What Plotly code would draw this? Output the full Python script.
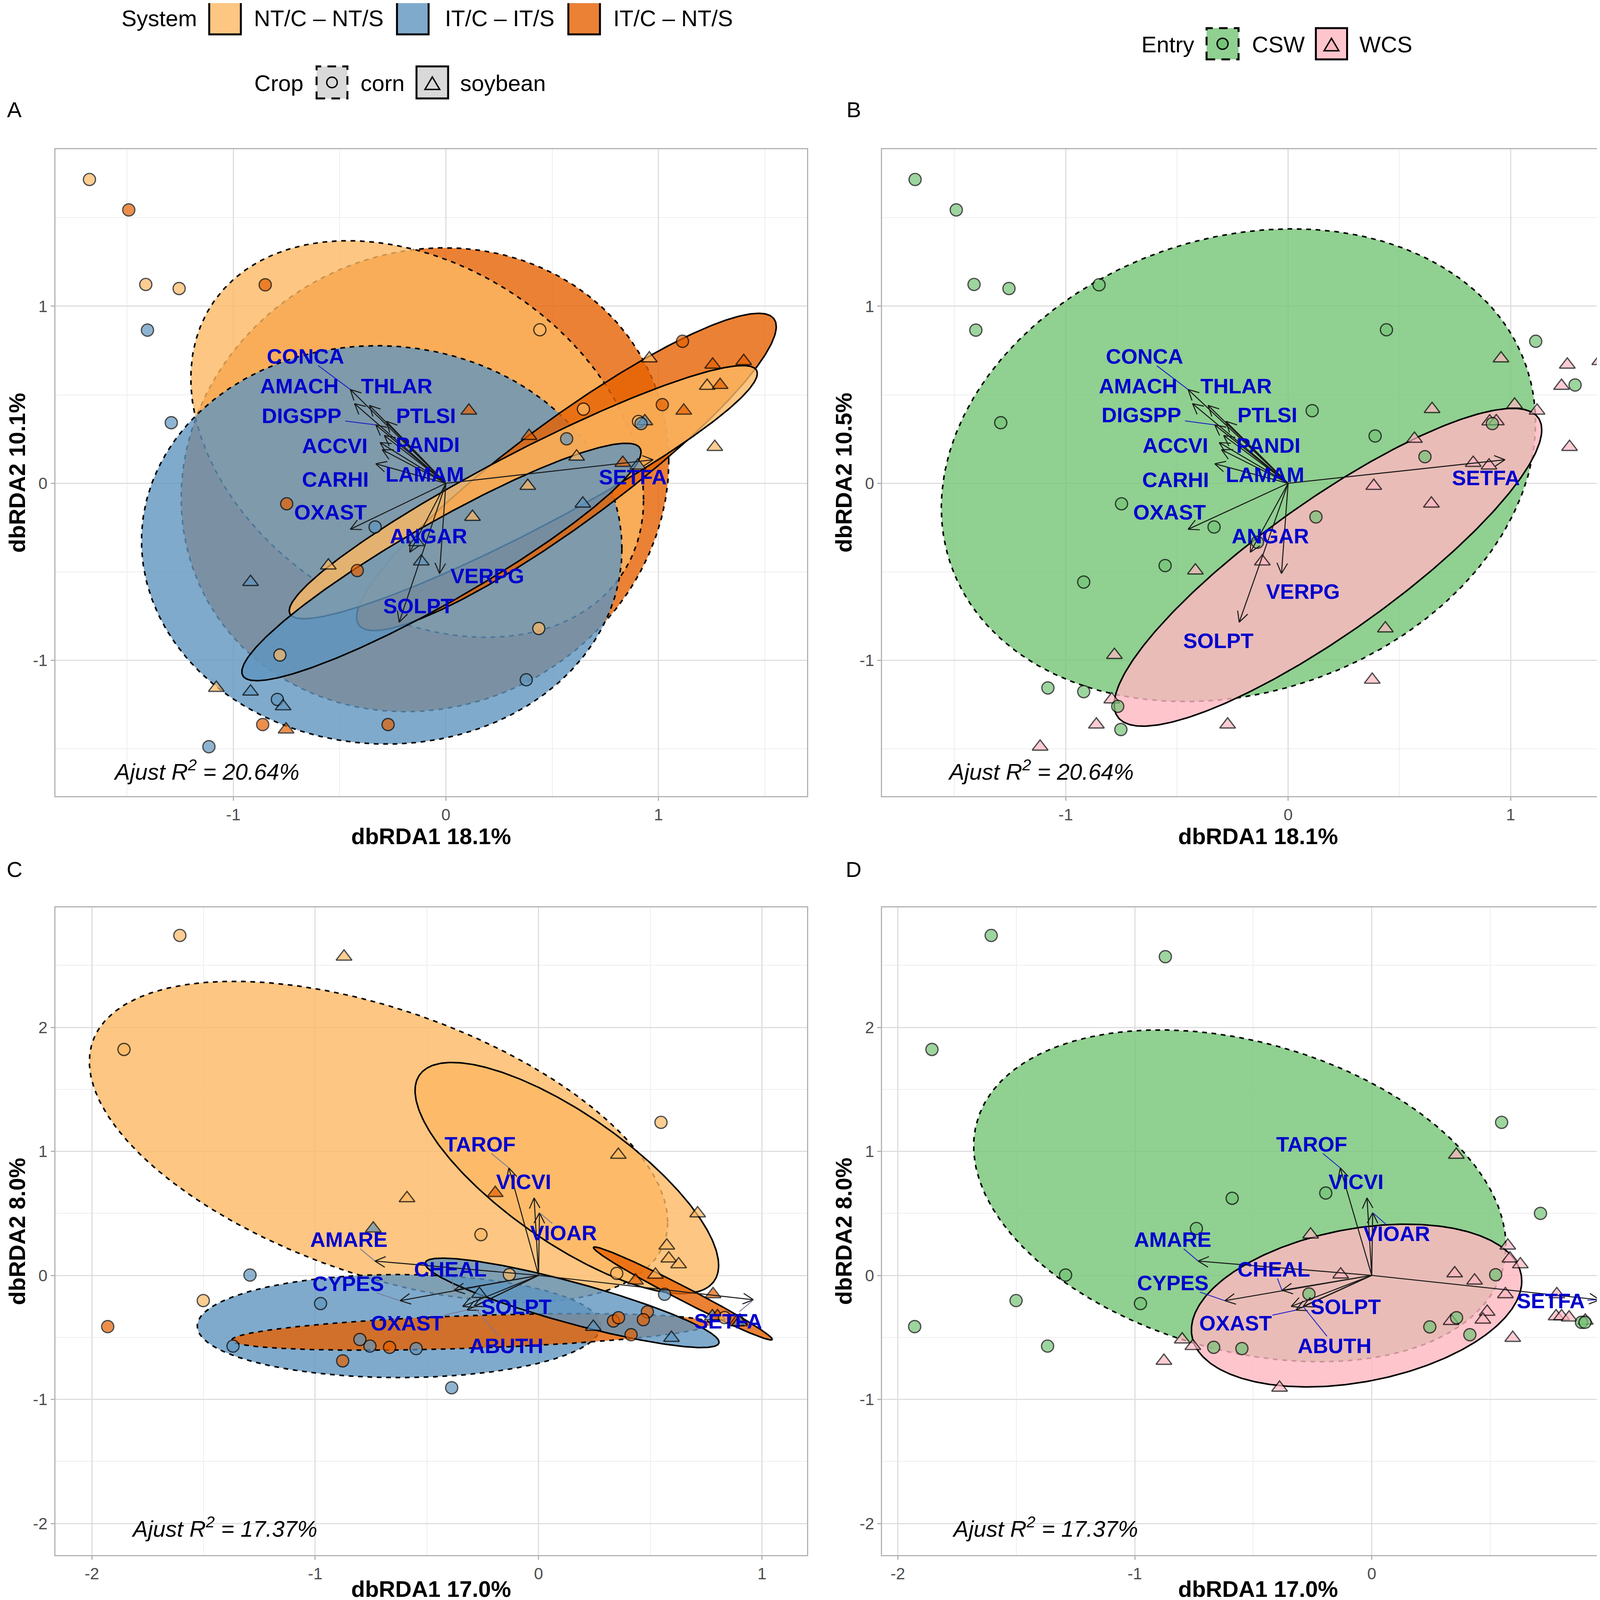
import numpy as np
import plotly.graph_objects as go

FIG_W, FIG_H = 4193, 4113
OFF = 8  # page margin the browser puts round the figure
FW, FH = FIG_W - 2 * OFF, FIG_H - 2 * OFF
FONT = "Liberation Sans, Arial, sans-serif"

# ---------------- scores, row 1 (panels A and B) ----------------
r1_x = [-1.677, -1.492, -1.412, -1.255, -0.850, -1.404, -1.292, -0.749, -0.333, -0.553, -0.417, -0.919,
        -0.116, -0.781, -1.080, -0.919, -0.793, -0.766, -0.862, -0.752, -0.272, -1.115, -0.138,
        0.442, 1.113, 0.957, 1.255, 1.401, 1.229, 1.290, 0.647, 1.018, 1.119, 0.906, 0.936, 0.918,
        0.108, 0.391, 0.568, 0.615, 1.265, 0.832, 0.903, 0.385, 0.644, 0.125, 0.437, 0.378]
r1_y = [1.716, 1.544, 1.123, 1.100, 1.121, 0.865, 0.342, -0.116, -0.247, -0.465, -0.493, -0.558,
        -0.442, -0.970, -1.156, -1.177, -1.221, -1.260, -1.363, -1.391, -1.363, -1.488, -0.333,
        0.867, 0.802, 0.705, 0.670, 0.690, 0.550, 0.555, 0.419, 0.444, 0.410, 0.349, 0.350, 0.337,
        0.410, 0.267, 0.251, 0.150, 0.205, 0.115, 0.100, -0.015, -0.115, -0.190, -0.820, -1.110]
r1_sys = ["NT", "ITNT", "NT", "NT", "ITNT", "IT", "IT", "ITNT", "IT", "NT", "ITNT", "IT",
          "IT", "NT", "NT", "IT", "IT", "IT", "ITNT", "ITNT", "ITNT", "IT", "IT",
          "NT", "ITNT", "NT", "ITNT", "ITNT", "NT", "ITNT", "NT", "ITNT", "ITNT", "NT", "IT", "IT",
          "ITNT", "ITNT", "IT", "NT", "NT", "ITNT", "IT", "NT", "IT", "NT", "NT", "IT"]
r1_crop = ["corn"] * 9 + ["soybean", "corn", "soybean", "soybean", "corn", "soybean", "soybean", "corn",
           "soybean", "corn", "soybean", "corn", "corn", "soybean",
           "corn", "corn", "soybean", "soybean", "soybean", "soybean", "soybean", "corn", "corn", "soybean",
           "corn", "soybean", "corn", "soybean", "soybean", "corn", "soybean", "soybean", "soybean",
           "soybean", "soybean", "soybean", "soybean", "corn", "corn"]
r1_entry = ["CSW"] * 10 + ["WCS", "CSW", "WCS", "WCS", "CSW", "CSW", "WCS", "CSW", "WCS", "CSW", "WCS", "WCS", "CSW",
            "CSW", "CSW", "WCS", "WCS", "WCS", "WCS", "CSW", "WCS", "WCS", "WCS", "WCS", "WCS", "CSW",
            "CSW", "CSW", "WCS", "CSW", "WCS", "WCS", "WCS", "WCS", "WCS", "CSW", "WCS", "WCS"]

# ---------------- scores, row 2 (panels C and D) ----------------
r2_x = [-1.606, -0.871, -1.856, 0.548, 0.357, -0.589, -0.194, -0.740, -0.258, 0.712, 0.574, 0.583,
        0.627, -0.131, 0.350, 0.434, 0.523, -1.292, 0.564, 0.781, -0.265, -1.501, -0.976, -1.929,
        0.335, 0.358, 0.487, 0.469, 0.245, 0.414, 0.595, -1.368, -0.800, -0.755, -0.667, -0.548,
        -0.877, -0.389, 0.778, 0.801, 0.833, 0.901, 0.885, 0.900]
r2_y = [2.741, 2.570, 1.822, 1.234, 0.972, 0.622, 0.664, 0.378, 0.329, 0.500, 0.240, 0.136,
        0.089, 0.007, 0.016, -0.042, 0.005, 0.003, -0.152, -0.152, -0.150, -0.203, -0.227, -0.413,
        -0.368, -0.341, -0.294, -0.357, -0.415, -0.478, -0.504, -0.570, -0.517, -0.570, -0.580, -0.590,
        -0.689, -0.906, -0.330, -0.330, -0.340, -0.365, -0.378, -0.378]
r2_sys = ["NT", "NT", "NT", "NT", "NT", "NT", "ITNT", "IT", "NT", "NT", "NT", "NT",
          "NT", "NT", "NT", "ITNT", "NT", "IT", "IT", "ITNT", "IT", "NT", "IT", "ITNT",
          "ITNT", "ITNT", "ITNT", "ITNT", "IT", "ITNT", "IT", "IT", "IT", "IT", "ITNT", "IT",
          "ITNT", "IT", "IT", "ITNT", "NT", "ITNT", "ITNT", "IT"]
r2_crop = ["corn", "soybean", "corn", "corn", "soybean", "soybean", "soybean", "soybean", "corn", "soybean",
           "soybean", "soybean", "soybean", "corn", "corn", "soybean", "soybean", "corn", "corn", "soybean",
           "soybean", "corn", "corn", "corn", "corn", "corn", "corn", "corn", "soybean", "corn", "soybean",
           "corn", "corn", "corn", "corn", "corn", "corn", "corn", "soybean", "soybean", "corn", "soybean",
           "soybean", "soybean"]
r2_entry = ["CSW", "CSW", "CSW", "CSW", "WCS", "CSW", "CSW", "CSW", "WCS", "CSW", "WCS", "WCS",
            "WCS", "WCS", "WCS", "WCS", "CSW", "CSW", "WCS", "WCS", "CSW", "CSW", "CSW", "CSW",
            "WCS", "CSW", "WCS", "WCS", "CSW", "CSW", "WCS", "CSW", "WCS", "WCS", "CSW", "CSW",
            "WCS", "WCS", "WCS", "WCS", "WCS", "WCS", "CSW", "CSW"]

# ---------------- species vectors ----------------
r1_sp = ["CONCA", "AMACH", "THLAR", "DIGSPP", "PTLSI", "PANDI", "ACCVI", "LAMAM", "CARHI",
         "OXAST", "ANGAR", "VERPG", "SOLPT", "SETFA"]
r1_vx = [-0.45, -0.43, -0.36, -0.33, -0.28, -0.29, -0.31, -0.30, -0.33, -0.45, -0.17, -0.03, -0.22, 0.975]
r1_vy = [0.53, 0.45, 0.44, 0.33, 0.35, 0.27, 0.23, 0.19, 0.11, -0.26, -0.39, -0.51, -0.785, 0.133]
r1_lead = ["CONCA", "DIGSPP"]
A_lx = [-0.66, -0.689, -0.231, -0.679, -0.093, -0.086, -0.523, -0.10, -0.521, -0.544, -0.081, 0.195, -0.13, 0.879]
A_ly = [0.718, 0.549, 0.549, 0.382, 0.382, 0.218, 0.212, 0.051, 0.023, -0.162, -0.297, -0.523, -0.692, 0.035]
B_lx = [-0.646, -0.674, -0.234, -0.66, -0.094, -0.089, -0.506, -0.103, -0.506, -0.534, -0.08, 0.066, -0.314, 0.89]
B_ly = [0.717, 0.55, 0.55, 0.386, 0.386, 0.215, 0.215, 0.05, 0.02, -0.162, -0.298, -0.611, -0.889, 0.032]

r2_sp = ["TAROF", "VICVI", "VIOAR", "AMARE", "CHEAL", "CYPES", "SOLPT", "OXAST", "ABUTH", "SETFA"]
r2_vx = [-0.133, -0.02, 0.004, -0.733, -0.379, -0.62, -0.34, -0.32, -0.29, 0.962]
r2_vy = [0.867, 0.625, 0.505, 0.116, -0.12, -0.204, -0.25, -0.28, -0.25, -0.197]
r2_lead = ["TAROF", "VIOAR", "AMARE", "CHEAL", "CYPES", "OXAST", "ABUTH", "SETFA"]
C_lx = [-0.262, -0.067, 0.112, -0.849, -0.394, -0.852, -0.099, -0.589, -0.144, 0.849]
C_ly = [1.059, 0.755, 0.343, 0.29, 0.052, -0.066, -0.252, -0.385, -0.566, -0.367]
D_lx = [-0.254, -0.067, 0.106, -0.84, -0.413, -0.84, -0.11, -0.574, -0.157, 0.755]
D_ly = [1.059, 0.755, 0.336, 0.29, 0.052, -0.059, -0.252, -0.385, -0.566, -0.206]

# ---------------- ellipses (centre, half width, half height, correlation) ----------------
A_ell_grp = ["ITNT", "NT", "IT", "ITNT", "NT", "IT"]
A_ell_crop = ["corn", "corn", "corn", "soybean", "soybean", "soybean"]
A_ell_cx = [-0.0985, -0.135, -0.302, 0.567, 0.364, -0.021]
A_ell_cy = [0.02, 0.25, -0.348, 0.064, -0.05, -0.4445]
A_ell_sx = [1.147, 1.065, 1.13, 0.987, 1.101, 0.939]
A_ell_sy = [1.31, 1.12, 1.125, 0.896, 0.715, 0.6705]
A_ell_r = [0.08, -0.306, -0.02, 0.916, 0.9375, 0.925]

B_ell_grp = ["CSW", "WCS"]
B_ell_cx = [-0.2235, 0.179]
B_ell_cy = [0.102, -0.4745]
B_ell_sx = [1.3355, 0.961]
B_ell_sy = [1.335, 0.8975]
B_ell_r = [0.18, 0.865]

C_ell_grp = ["NT", "IT", "ITNT", "NT", "IT", "ITNT"]
C_ell_crop = ["corn", "corn", "corn", "soybean", "soybean", "soybean"]
C_ell_cx = [-0.7165, -0.625, -0.302, 0.1265, 0.15, 0.646]
C_ell_cy = [1.077, -0.4085, -0.4555, 0.785, -0.2215, -0.1455]
C_ell_sx = [1.2945, 0.903, 1.072, 0.6795, 0.658, 0.4002]
C_ell_sy = [1.294, 0.4155, 0.1475, 0.932, 0.3605, 0.375]
C_ell_r = [-0.5, 0.0, 0.45, -0.756, -0.88, -0.986]

D_ell_grp = ["CSW", "WCS"]
D_ell_cx = [-0.557, -0.064]
D_ell_cy = [0.6415, -0.243]
D_ell_sx = [1.123, 0.697]
D_ell_sy = [1.3375, 0.656]
D_ell_r = [-0.3, 0.3]

sys_names = {"NT": "NT/C – NT/S", "IT": "IT/C – IT/S", "ITNT": "IT/C – NT/S"}
col = {"NT": "#FDB863", "IT": "#5F95BF", "ITNT": "#E66101", "CSW": "#74C476", "WCS": "#FFB6C1"}


def rgba(hexc, a):
    h = hexc.lstrip("#")
    return "rgba(%d,%d,%d,%s)" % (int(h[0:2], 16), int(h[2:4], 16), int(h[4:6], 16), a)


def px_x(v):
    return (v - OFF) / FW


def px_y(v):
    return 1 - (v - OFF) / FH


# pixel boxes of the four panels (left, top, right, bottom) and their ranges
panels = {
    "A": dict(box=(142, 382, 2067, 2038), xr=(-1.837, 1.698), yr=(-1.767, 1.887), n="", seg="#2020C8", tt=102),
    "B": dict(box=(2260, 382, 4185, 2038), xr=(-1.825, 1.553), yr=(-1.767, 1.887), n="2", seg="#2020C8", tt=102),
    "C": dict(box=(142, 2323, 2067, 3981), xr=(-2.163, 1.201), yr=(-2.255, 2.967), n="3", seg="#7A7A9A", tt=86),
    "D": dict(box=(2260, 2323, 4185, 3981), xr=(-2.066, 1.105), yr=(-2.255, 2.967), n="4", seg="#2020C8", tt=86),
}
titles = {"A": ("dbRDA1 18.1%", "dbRDA2 10.1%"), "B": ("dbRDA1 18.1%", "dbRDA2 10.5%"),
          "C": ("dbRDA1 17.0%", "dbRDA2 8.0%"), "D": ("dbRDA1 17.0%", "dbRDA2 8.0%")}

fig = go.Figure()


def scale(p):
    P = panels[p]
    bx = P["box"]
    return (bx[2] - bx[0]) / (P["xr"][1] - P["xr"][0]), (bx[3] - bx[1]) / (P["yr"][1] - P["yr"][0])


def ellipse_xy(cx, cy, sx, sy, r, n=300):
    t = np.linspace(0, 2 * np.pi, n)
    x = cx + sx * np.cos(t)
    y = cy + sy * (r * np.cos(t) + np.sqrt(1 - r * r) * np.sin(t))
    return x, y


def add_ellipses(p, grp, crop, cx, cy, sx, sy, rr):
    n = panels[p]["n"]
    for g, c, a, b, w, h, r in zip(grp, crop, cx, cy, sx, sy, rr):
        x, y = ellipse_xy(a, b, w, h, r)
        fig.add_trace(go.Scatter(x=x, y=y, mode="lines", fill="toself", fillcolor=rgba(col[g], 0.8),
                                 line=dict(color="black", width=4, dash="dash" if c in ("corn", "CSW") else "solid"),
                                 xaxis="x" + n, yaxis="y" + n, hoverinfo="skip", showlegend=False))


def add_points(p, xs, ys, colour_keys, shape_keys):
    n = panels[p]["n"]
    cols = [col[k] for k in colour_keys]
    sym = ["circle" if s in ("corn", "CSW") else "triangle-up" for s in shape_keys]
    size = [31 if s == "circle" else 35 for s in sym]
    fig.add_trace(go.Scatter(x=xs, y=ys, mode="markers",
                             marker=dict(color=cols, symbol=sym, size=size, line=dict(color="black", width=3.2)),
                             xaxis="x" + n, yaxis="y" + n, showlegend=False))


def add_vectors(p, vx, vy, sp, lx, ly, lead, head=30, ang=27):
    P = panels[p]
    n = P["n"]
    sx, sy = scale(p)
    xs, ys = [], []
    for tx, ty in zip(vx, vy):
        xs += [0, tx, None]
        ys += [0, ty, None]
        phi = np.arctan2(ty * sy, tx * sx)
        for s in (1, -1):
            a = phi + np.pi + s * np.radians(ang)
            xs += [tx + head * np.cos(a) / sx, tx, None]
            ys += [ty + head * np.sin(a) / sy, ty, None]
    fig.add_trace(go.Scatter(x=xs, y=ys, mode="lines", line=dict(color="#1a1a1a", width=2.6),
                             xaxis="x" + n, yaxis="y" + n, hoverinfo="skip", showlegend=False))
    # leader segments from the label box to the arrow tip
    segx, segy = [], []
    for name, x, y, tx, ty in zip(sp, lx, ly, vx, vy):
        if name not in lead:
            continue
        dx, dy = (tx - x) * sx, (ty - y) * sy
        hw, hh = len(name) * 18 + 4, 24
        t = min(hw / abs(dx) if dx else 1e9, hh / abs(dy) if dy else 1e9)
        if t >= 0.95:
            continue
        segx += [x + dx * t / sx, tx, None]
        segy += [y + dy * t / sy, ty, None]
    fig.add_trace(go.Scatter(x=segx, y=segy, mode="lines", line=dict(color=P["seg"], width=2.2),
                             xaxis="x" + n, yaxis="y" + n, hoverinfo="skip", showlegend=False))
    for name, x, y in zip(sp, lx, ly):
        fig.add_annotation(x=x, y=y, xref="x" + n, yref="y" + n, text="<b>%s</b>" % name, showarrow=False,
                           xanchor="center", yanchor="middle",
                           font=dict(size=54, color="#0000CD", family=FONT))


add_ellipses("A", A_ell_grp, A_ell_crop, A_ell_cx, A_ell_cy, A_ell_sx, A_ell_sy, A_ell_r)
add_points("A", r1_x, r1_y, r1_sys, r1_crop)
add_vectors("A", r1_vx, r1_vy, r1_sp, A_lx, A_ly, r1_lead)

add_ellipses("B", B_ell_grp, B_ell_grp, B_ell_cx, B_ell_cy, B_ell_sx, B_ell_sy, B_ell_r)
add_points("B", r1_x, r1_y, r1_entry, r1_entry)
add_vectors("B", r1_vx, r1_vy, r1_sp, B_lx, B_ly, r1_lead)

add_ellipses("C", C_ell_grp, C_ell_crop, C_ell_cx, C_ell_cy, C_ell_sx, C_ell_sy, C_ell_r)
add_points("C", r2_x, r2_y, r2_sys, r2_crop)
add_vectors("C", r2_vx, r2_vy, r2_sp, C_lx, C_ly, r2_lead)

add_ellipses("D", D_ell_grp, D_ell_grp, D_ell_cx, D_ell_cy, D_ell_sx, D_ell_sy, D_ell_r)
add_points("D", r2_x, r2_y, r2_entry, r2_entry)
add_vectors("D", r2_vx, r2_vy, r2_sp, D_lx, D_ly, r2_lead)


def paper_text(txt, x, y, size=58, anchor="center", angle=0):
    fig.add_annotation(x=px_x(x), y=px_y(y), xref="paper", yref="paper", text=txt, showarrow=False,
                       xanchor=anchor, yanchor="middle", textangle=angle,
                       font=dict(size=size, color="black", family=FONT))


# axes (titles are placed as text under / beside each panel)
axis_style = dict(showgrid=True, gridcolor="#DEDEDE", gridwidth=2.5, zeroline=False, showline=True, mirror=True,
                  linecolor="#B3B3B3", linewidth=3, ticks="outside", ticklen=9, tickwidth=3, tickcolor="#B3B3B3",
                  tickfont=dict(size=42, color="#4D4D4D", family=FONT), fixedrange=True,
                  minor=dict(dtick=0.5, tick0=0, showgrid=True, gridcolor="#EEEEEE", gridwidth=1.5))
for p, P in panels.items():
    n = P["n"]
    bx = P["box"]
    xt, yt = titles[p]
    xv = list(range(int(np.ceil(P["xr"][0])), int(np.floor(P["xr"][1])) + 1))
    yv = list(range(int(np.ceil(P["yr"][0])), int(np.floor(P["yr"][1])) + 1))
    fig.update_layout({
        "xaxis" + n: dict(axis_style, domain=[px_x(bx[0]), px_x(bx[2])], range=list(P["xr"]),
                          anchor="y" + n, tickvals=xv, ticktext=[str(v) for v in xv]),
        "yaxis" + n: dict(axis_style, domain=[px_y(bx[3]), px_y(bx[1])], range=list(P["yr"]),
                          anchor="x" + n, tickvals=yv, ticktext=[str(v) for v in yv]),
    })
    paper_text("<b>%s</b>" % xt, (bx[0] + bx[2]) / 2, bx[3] + P["tt"], 58)
    paper_text("<b>%s</b>" % yt, bx[0] - 99, (bx[1] + bx[3]) / 2, 58, angle=-90)

# panel letters and adjusted R2
letters = {"A": (37, 281), "B": (2187, 281), "C": (37, 2225), "D": (2187, 2225)}
for k, (px, py) in letters.items():
    paper_text(k, px, py, 56)
r2_text = {"A": ("20.64", 529, 1971), "B": ("20.64", 2666, 1971), "C": ("17.37", 575, 3909), "D": ("17.37", 2677, 3909)}
for k, (v, px, py) in r2_text.items():
    paper_text("<i>Ajust R<sup>2</sup> = %s%%</i>" % v, px, py, 58)


# legends (drawn by hand at the top)
def key_rect(x0, y0, x1, y1, fill, dash):
    fig.add_shape(type="rect", xref="paper", yref="paper", x0=px_x(x0), x1=px_x(x1), y0=px_y(y1), y1=px_y(y0),
                  fillcolor=fill, line=dict(color="black", width=5, dash="22px,16px" if dash else "solid"))


def key_circle(cx, cy, d, fill):
    fig.add_shape(type="circle", xref="paper", yref="paper", x0=px_x(cx - d / 2), x1=px_x(cx + d / 2),
                  y0=px_y(cy + d / 2), y1=px_y(cy - d / 2), fillcolor=fill, line=dict(color="black", width=3.5))


def key_triangle(cx, cy, w, h, fill):
    path = "M %f,%f L %f,%f L %f,%f Z" % (px_x(cx - w / 2), px_y(cy + h / 2), px_x(cx + w / 2), px_y(cy + h / 2),
                                         px_x(cx), px_y(cy - h / 2))
    fig.add_shape(type="path", xref="paper", yref="paper", path=path, fillcolor=fill,
                  line=dict(color="black", width=3.5))


paper_text("System", 506, 47, anchor="right")
sys_keys = [("NT", 536, 648), ("IT", 1017, 1138), ("ITNT", 1456, 1569)]
for k, kx, tx in sys_keys:
    key_rect(kx, 5, kx + 81, 88, rgba(col[k], 0.8), False)
    paper_text(sys_names[k], tx, 47, anchor="left")

paper_text("Crop", 780, 212, anchor="right")
key_rect(811, 170, 890, 252, "#D9D9D9", True)
key_circle(850.5, 211, 27, "#D9D9D9")
paper_text("corn", 922, 212, anchor="left")
key_rect(1067, 170, 1148, 252, "#D9D9D9", False)
key_triangle(1107.5, 213, 38, 32, "#D9D9D9")
paper_text("soybean", 1177, 212, anchor="left")

paper_text("Entry", 3061, 113, anchor="right")
key_rect(3091, 72, 3173, 152, rgba(col["CSW"], 0.8), True)
key_circle(3132, 112, 28, col["CSW"])
paper_text("CSW", 3205, 113, anchor="left")
key_rect(3371, 72, 3451, 152, rgba(col["WCS"], 0.8), False)
key_triangle(3411, 114, 38, 32, col["WCS"])
paper_text("WCS", 3480, 113, anchor="left")

fig.update_layout(width=FW, height=FH, margin=dict(l=0, r=0, t=0, b=0), showlegend=False,
                  paper_bgcolor="white", plot_bgcolor="white", font=dict(family=FONT, color="black"))

fig.write_html("out.html")
